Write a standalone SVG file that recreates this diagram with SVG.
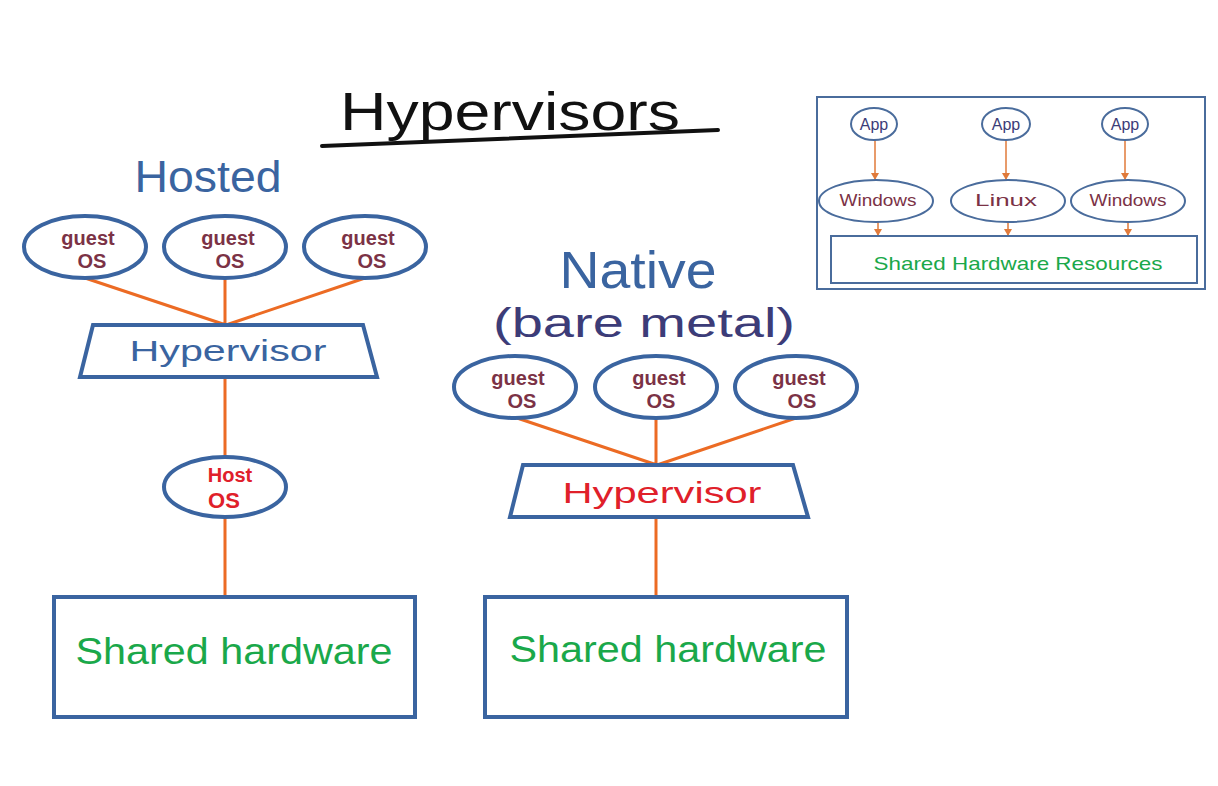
<svg xmlns="http://www.w3.org/2000/svg" width="1218" height="786" viewBox="0 0 1218 786">
<style>
.node{fill:#fff;stroke:#3a64a0;stroke-width:4}
.conn{stroke:#ec6b24;stroke-width:3;fill:none}
.thin{stroke:#e07a3a;stroke-width:1.5;fill:none}
.inset{fill:#fff;stroke:#4a6c9c;stroke-width:2}
text{font-family:"Liberation Sans",Arial,sans-serif;text-anchor:middle}
.guest{fill:#7b3246;font-size:20px;font-weight:bold}
.blue{fill:#3a64a0}
.green{fill:#1aa84a}
.red{fill:#e0202a}
</style>
<defs>
<marker id="ah" markerWidth="8" markerHeight="8" refX="6" refY="4" orient="auto" markerUnits="userSpaceOnUse">
<path d="M0,0 L7,4 L0,8 z" fill="#e07a3a"/>
</marker>
</defs>
<rect width="1218" height="786" fill="#fff"/>

<g id="title">
<text x="510" y="130" font-size="54" fill="#111" textLength="340" lengthAdjust="spacingAndGlyphs">Hypervisors</text>
<path d="M322,146 L718,130" stroke="#111" stroke-width="4" fill="none" stroke-linecap="round"/>
</g>
<g id="label-hosted"><text x="208" y="192" font-size="44" class="blue" textLength="147" lengthAdjust="spacingAndGlyphs">Hosted</text></g>
<g id="label-native"><text x="638" y="288" font-size="52" class="blue" textLength="157" lengthAdjust="spacingAndGlyphs">Native</text></g>
<g id="label-bare"><text x="644" y="337" font-size="40" fill="#3c3c78" textLength="302" lengthAdjust="spacingAndGlyphs">(bare metal)</text></g>

<g id="inset-frame"><rect x="817" y="97" width="388" height="192" fill="#fff" stroke="#4a6c9c" stroke-width="2"/></g>

<g id="connectors">
<path class="conn" d="M85,278 L226,325 M225,278 L225,325 M365,278 L226,325"/>
<path class="conn" d="M225,377 L225,457 M225,518 L225,597"/>
<path class="conn" d="M517,418 L657,465 M656,418 L656,465 M796,418 L657,465"/>
<path class="conn" d="M656,517 L656,597"/>
<path class="thin" marker-end="url(#ah)" d="M875,140 L875,179"/>
<path class="thin" marker-end="url(#ah)" d="M1006,140 L1006,179"/>
<path class="thin" marker-end="url(#ah)" d="M1125,140 L1125,179"/>
<path class="thin" marker-end="url(#ah)" d="M878,222 L878,235"/>
<path class="thin" marker-end="url(#ah)" d="M1008,222 L1008,235"/>
<path class="thin" marker-end="url(#ah)" d="M1128,222 L1128,235"/>
</g>

<g id="h-guest1"><ellipse class="node" cx="85" cy="247" rx="61" ry="31"/><text class="guest" x="88" y="245">guest</text><text class="guest" x="92" y="268">OS</text></g>
<g id="h-guest2"><ellipse class="node" cx="225" cy="247" rx="61" ry="31"/><text class="guest" x="228" y="245">guest</text><text class="guest" x="230" y="268">OS</text></g>
<g id="h-guest3"><ellipse class="node" cx="365" cy="247" rx="61" ry="31"/><text class="guest" x="368" y="245">guest</text><text class="guest" x="372" y="268">OS</text></g>
<g id="h-hypervisor"><polygon class="node" points="93,325 363,325 377,377 80,377"/><text x="228" y="361" font-size="30" class="blue" textLength="197" lengthAdjust="spacingAndGlyphs">Hypervisor</text></g>
<g id="h-hostos"><ellipse class="node" cx="225" cy="487" rx="61" ry="30"/><text x="230" y="482" font-size="20" font-weight="bold" class="red">Host</text><text x="224" y="508" font-size="22" font-weight="bold" class="red">OS</text></g>
<g id="h-hardware"><rect class="node" x="54" y="597" width="361" height="120"/><text x="234" y="664" font-size="36" class="green" textLength="317" lengthAdjust="spacingAndGlyphs">Shared hardware</text></g>

<g id="n-guest1"><ellipse class="node" cx="515" cy="387" rx="61" ry="31"/><text class="guest" x="518" y="385">guest</text><text class="guest" x="522" y="408">OS</text></g>
<g id="n-guest2"><ellipse class="node" cx="656" cy="387" rx="61" ry="31"/><text class="guest" x="659" y="385">guest</text><text class="guest" x="661" y="408">OS</text></g>
<g id="n-guest3"><ellipse class="node" cx="796" cy="387" rx="61" ry="31"/><text class="guest" x="799" y="385">guest</text><text class="guest" x="802" y="408">OS</text></g>
<g id="n-hypervisor"><polygon class="node" points="523,465 793,465 808,517 510,517"/><text x="662" y="503" font-size="30" class="red" textLength="199" lengthAdjust="spacingAndGlyphs">Hypervisor</text></g>
<g id="n-hardware"><rect class="node" x="485" y="597" width="362" height="120"/><text x="668" y="662" font-size="36" class="green" textLength="317" lengthAdjust="spacingAndGlyphs">Shared hardware</text></g>

<g id="i-app1"><ellipse class="inset" cx="874" cy="124" rx="23" ry="16"/><text x="874" y="130" font-size="16" fill="#3c3c78">App</text></g>
<g id="i-app2"><ellipse class="inset" cx="1006" cy="124" rx="24" ry="16"/><text x="1006" y="130" font-size="16" fill="#3c3c78">App</text></g>
<g id="i-app3"><ellipse class="inset" cx="1125" cy="124" rx="23" ry="16"/><text x="1125" y="130" font-size="16" fill="#3c3c78">App</text></g>
<g id="i-win1"><ellipse class="inset" cx="876" cy="201" rx="57" ry="21"/><text x="878" y="206" font-size="16" fill="#7b3246" textLength="77" lengthAdjust="spacingAndGlyphs">Windows</text></g>
<g id="i-linux"><ellipse class="inset" cx="1008" cy="201" rx="57" ry="21"/><text x="1006" y="206" font-size="16" fill="#7b3246" textLength="62" lengthAdjust="spacingAndGlyphs">Linux</text></g>
<g id="i-win2"><ellipse class="inset" cx="1128" cy="201" rx="57" ry="21"/><text x="1128" y="206" font-size="16" fill="#7b3246" textLength="77" lengthAdjust="spacingAndGlyphs">Windows</text></g>
<g id="i-hw"><rect class="inset" x="831" y="236" width="366" height="47"/><text x="1018" y="270" font-size="19" class="green" textLength="289" lengthAdjust="spacingAndGlyphs">Shared Hardware Resources</text></g>
</svg>
